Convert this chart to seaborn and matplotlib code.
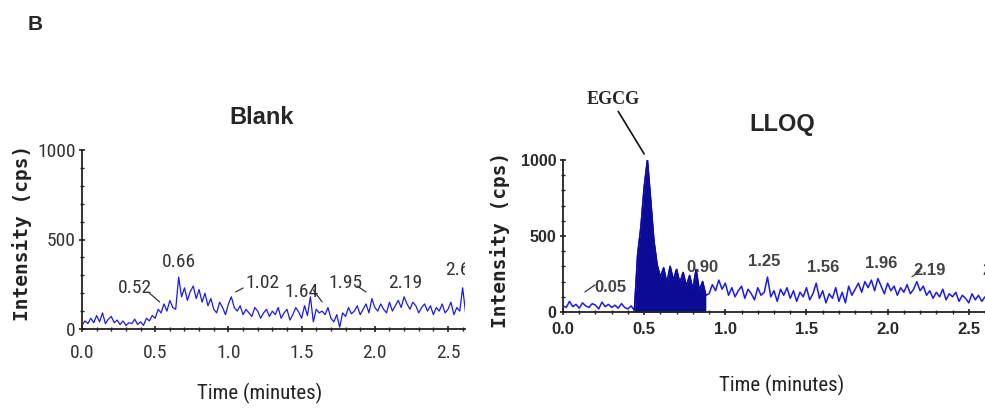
import numpy as np
import pandas as pd
import matplotlib
matplotlib.use("Agg")
import matplotlib.pyplot as plt
import seaborn as sns
from matplotlib import font_manager as fm

# ---------------- data ----------------
step = 0.02
blank_values = [
    20, 45, 30, 60, 35, 75, 40, 90, 30, 55, 70, 35, 50, 25, 45, 20, 35, 30, 55, 25, 40, 20, 60, 45, 75,
    60, 110, 90, 140, 100, 160, 120, 110,
    290,
    180, 230, 160, 210, 240, 170, 220, 150, 200,
    130, 170, 110, 90, 150, 120, 80,
    140, 180, 120, 100, 130, 80, 110, 90, 70, 120, 100, 60, 90, 110, 70, 100, 80, 120, 60, 90,
    110, 50, 80, 120, 95, 60, 130, 75, 180, 40,
    110, 90, 100, 80, 120, 60, 40, 80, 10,
    90, 70, 120, 85, 100, 130, 80, 110, 140, 90, 170, 120, 100, 140, 110, 90, 150, 100, 130, 160,
    120, 180, 140, 110, 150, 130, 90, 120, 140, 100, 130, 80, 120, 100, 140, 90, 110, 150, 80, 120,
    100, 230, 90,
]
lloq_values = [
    40, 30, 70, 35, 50, 25, 60, 40, 30, 55, 45, 20, 65, 35, 50, 30, 45, 25, 55, 30, 20, 40,
    10,
    380, 560, 820, 1000, 740, 470, 310, 230, 290, 190, 300, 210, 280, 190, 260, 170, 240, 150, 280, 140, 200, 110,
    120, 180, 140, 210, 150, 190, 110, 160, 100, 140, 170, 90, 150, 120, 80, 160, 110, 130, 230, 100,
    140, 70, 150, 110, 160, 90, 140, 70, 130, 100, 160, 80, 120, 190, 90, 140, 60, 120, 90, 160,
    70, 130, 60, 170, 110, 150, 190, 130, 200, 160, 210, 140, 220, 170, 120, 190, 140, 170, 110, 160,
    130, 180, 120, 150, 200, 140, 170, 110, 140, 90, 130, 100, 150, 80, 120, 100, 130, 70, 110, 90,
    60, 120, 80, 110, 70, 100,
]
peak_start, peak_end = 0.45, 0.88

blank_labels = ["0.52", "0.66", "1.02", "1.64", "1.95", "2.19", "2.6"]
lloq_labels = ["0.05", "0.90", "1.25", "1.56", "1.96", "2.19", "2.60"]

blank = pd.DataFrame({"t": np.round(np.arange(len(blank_values)) * step, 2), "v": blank_values})
lloq = pd.DataFrame({"t": np.round(np.arange(len(lloq_values)) * step, 2), "v": lloq_values})

# ---------------- style ----------------
sns.set_style("ticks")
plt.rcParams["font.family"] = ["Liberation Sans", "DejaVu Sans"]

names = {f.name for f in fm.fontManager.ttflist}
NARROW_PROPS = None
for cand in ["Liberation Sans Narrow", "Roboto Condensed", "Open Sans Condensed", "DejaVu Sans Condensed"]:
    if cand in names:
        NARROW_PROPS = dict(family=[cand])
        break
if NARROW_PROPS is None:
    dv_cond = [f for f in fm.fontManager.ttflist if f.name == "DejaVu Sans" and "Condensed" in f.fname
               and "Bold" not in f.fname and "Oblique" not in f.fname]
    if dv_cond:
        NARROW_PROPS = dict(fontproperties=fm.FontProperties(fname=dv_cond[0].fname))
    else:
        NARROW_PROPS = dict(family=["Liberation Sans"])

BLUE = "#1a1aee"
NAVY = "#0b0b96"

def narrow(size, **kw):
    if "fontproperties" in NARROW_PROPS:
        fp = NARROW_PROPS["fontproperties"].copy()
        fp.set_size(size)
        return dict(fontproperties=fp, **kw)
    return dict(family=NARROW_PROPS["family"], fontsize=size, **kw)

fig = plt.figure(figsize=(9.85, 4.12), dpi=100)
ax1 = fig.add_axes([82 / 985, 1 - 329 / 412, 383 / 985, 179 / 412])
ax2 = fig.add_axes([563 / 985, 1 - 312 / 412, 422 / 985, 152 / 412])

# ---- left panel: Blank ----
sns.lineplot(data=blank, x="t", y="v", ax=ax1, color=BLUE, lw=0.9, estimator=None)
ax1.set_xlim(0, 2.616)
ax1.set_ylim(0, 1000)

# ---- right panel: LLOQ ----
sns.lineplot(data=lloq, x="t", y="v", ax=ax2, color=BLUE, lw=1.1, estimator=None)
pk = lloq[(lloq.t >= peak_start - 0.02) & (lloq.t <= peak_end + 0.001)]
ax2.fill_between(pk.t, 0, pk.v, color=NAVY, lw=0)
sns.lineplot(data=pk, x="t", y="v", ax=ax2, color=NAVY, lw=1.1, estimator=None)
ax2.set_xlim(0, 2.592)
ax2.set_ylim(0, 1000)

for ax in (ax1, ax2):
    sns.despine(ax=ax)
    ax.set_xticks([0, 0.5, 1.0, 1.5, 2.0, 2.5])
    ax.set_xticks(np.arange(0, 2.61, 0.1), minor=True)
    ax.set_yticks([0, 500, 1000])
    ax.set_yticks(np.arange(0, 1001, 100), minor=True)
    ax.tick_params(which="major", length=5, width=1.2, direction="inout", color="#222")
    ax.tick_params(which="minor", length=3, width=1.0, direction="inout", color="#222")
    for s in ("left", "bottom"):
        ax.spines[s].set_linewidth(1.3)
        ax.spines[s].set_color("#222")
    ax.set_xlabel("")
    ax.set_ylabel("")

xt = ["0.0", "0.5", "1.0", "1.5", "2.0", "2.5"]
yt = ["0", "500", "1000"]
ax1.set_xticklabels(xt, **narrow(14, color="#333333"))
ax1.set_yticklabels(yt, **narrow(14, color="#333333"))
ax1.tick_params(axis="x", pad=8)
ax1.tick_params(axis="y", pad=2)
ax2.set_xticklabels(xt, fontsize=12, fontweight="bold", color="#2a2a2a")
ax2.set_yticklabels(yt, fontsize=11.5, fontweight="bold", color="#2a2a2a")
ax2.tick_params(axis="x", pad=5)
ax2.tick_params(axis="y", pad=2)

# axis labels
fig.text(22 / 985, 1 - 233 / 412, "Intensity (cps)", rotation=90, ha="center", va="center",
         family=["DejaVu Sans Mono"], fontweight="bold", fontsize=14, color="#222")
fig.text(500 / 985, 1 - 240 / 412, "Intensity (cps)", rotation=90, ha="center", va="center",
         family=["DejaVu Sans Mono"], fontweight="bold", fontsize=14, color="#222")
fig.text(260 / 985, 1 - 393 / 412, "Time (minutes)", ha="center", va="center",
         **narrow(15, color="#222"))
fig.text(782 / 985, 1 - 385 / 412, "Time (minutes)", ha="center", va="center",
         **narrow(15, color="#222"))

# titles
fig.text(35 / 985, 1 - 25 / 412, "B", ha="center", va="center", fontsize=15, fontweight="bold")
fig.text(262 / 985, 1 - 117 / 412, "Blank", ha="center", va="center", fontsize=17, fontweight="bold")
fig.text(782 / 985, 1 - 125 / 412, "LLOQ", ha="center", va="center", fontsize=17, fontweight="bold")

# peak labels - Blank
bl_pos = [(0.36, 229), (0.66, 374), (1.23, 257), (1.50, 207), (1.80, 257), (2.21, 257), (2.48, 330)]
for txt, (x, y) in zip(blank_labels, bl_pos):
    ha = "left" if txt == "2.6" else "center"
    ax1.text(x, y, txt, ha=ha, va="center", clip_on=True, **narrow(14, color="#333"))
for (x0, y0, x1, y1) in [(0.46, 201, 0.53, 151), (1.05, 207, 1.10, 229),
                         (1.58, 218, 1.64, 151), (1.88, 240, 1.94, 207)]:
    ax1.plot([x0, x1], [y0, y1], color="#333", lw=0.9)

# peak labels - LLOQ
lq_pos = [(0.29, 164), (0.86, 290), (1.24, 329), (1.60, 290), (1.96, 322), (2.26, 276), (2.585, 276)]
for txt, (x, y) in zip(lloq_labels, lq_pos):
    ha = "left" if txt == "2.60" else "center"
    ax2.text(x, y, txt, ha=ha, va="center", fontsize=12, fontweight="bold", color="#444",
             clip_on=True)
for (x0, y0, x1, y1) in [(0.135, 132, 0.197, 178), (2.15, 232, 2.20, 268)]:
    ax2.plot([x0, x1], [y0, y1], color="#333", lw=0.9)

# EGCG label
ax2.text(0.31, 1395, "EGCG", ha="center", va="center", family=["Liberation Serif", "DejaVu Serif"],
         fontweight="bold", fontsize=13, clip_on=False)
ax2.plot([0.34, 0.50], [1320, 1040], color="#111", lw=1.2, clip_on=False)

fig.savefig("out.png", dpi=100)
